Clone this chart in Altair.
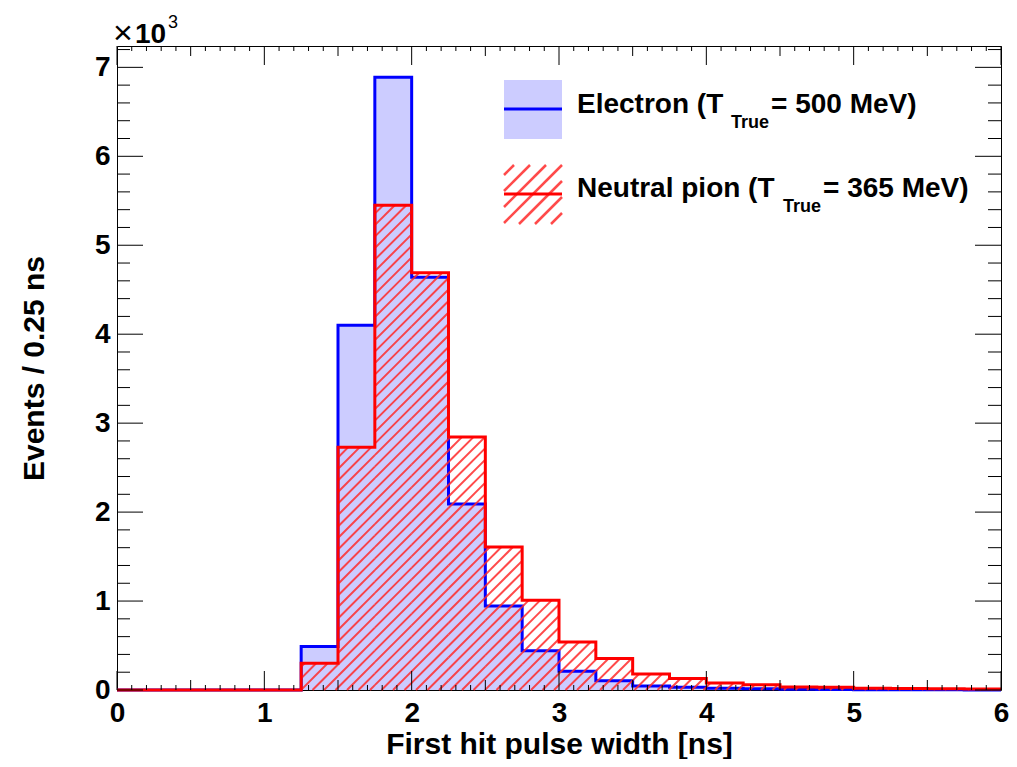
import altair as alt
import pandas as pd
import math

# ---------------- data ----------------
BIN_WIDTH = 0.25
BIN_LOW = [i * BIN_WIDTH for i in range(24)]          # 0.00 ... 5.75
ELECTRON = [0, 0, 0, 0, 0, 490, 4100, 6890, 4640, 2090, 944, 440,
            210, 105, 45, 30, 20, 15, 8, 5, 4, 3, 2, 1]
PION = [0, 0, 0, 0, 0, 300, 2730, 5450, 4690, 2843, 1607, 1010,
        540, 355, 180, 130, 80, 60, 35, 30, 20, 18, 15, 12]

X_TICK_LABELS = [0, 1, 2, 3, 4, 5, 6]
Y_TICK_LABELS = [0, 1000, 2000, 3000, 4000, 5000, 6000, 7000]
X_MID_TICKS = [0.5, 1.5, 2.5, 3.5, 4.5, 5.5]
X_MINOR_TICKS = [round(i * 0.1, 1) for i in range(61) if i % 5 != 0]
Y_MINOR_TICKS = [v for v in range(0, 7201, 200) if v % 1000 != 0]

LEGEND_LABELS = [("Electron (T", "True", "= 500 MeV)"),
                 ("Neutral pion (T", "True", "= 365 MeV)")]

# ---------------- layout ----------------
W, H = 884, 644
XMAX, YMAX = 6.0, 7240.0
FONT = "Liberation Sans"
BLUE, RED, LAV = "#0000ff", "#ff0000", "#ccccff"

xs = alt.Scale(domain=[0, XMAX], nice=False, zero=False)
ys = alt.Scale(domain=[0, YMAX], nice=False, zero=False)

AX = alt.Axis(
    values=X_TICK_LABELS, title="First hit pulse width [ns]", ticks=False,
    domain=False, grid=False, labelFontSize=28, labelFontWeight="bold",
    labelFont=FONT, labelPadding=9, labelFlush=False, labelColor="black",
    titleFont=FONT, titleFontSize=30, titleFontWeight="bold", titleColor="black",
    titleY=63, titleBaseline="alphabetic")
AY = alt.Axis(
    values=Y_TICK_LABELS, labelExpr="datum.value / 1000", title="Events / 0.25 ns",
    ticks=False, domain=False, grid=False, labelFontSize=28, labelFontWeight="bold",
    labelFont=FONT, labelPadding=7, labelColor="black", labelBaseline="middle",
    titleFont=FONT, titleFontSize=30, titleFontWeight="bold", titleColor="black",
    titleX=-74, titleBaseline="alphabetic")

edges = pd.DataFrame({
    "x": BIN_LOW + [XMAX],
    "e": ELECTRON + [ELECTRON[-1]],
    "r": PION + [PION[-1]],
})


def hatch(rects, spacing):
    """45-degree hatch segments (in pixel space) clipped to data rectangles."""
    rows = []
    for (x0, x1, y0, y1) in rects:
        X0, X1 = x0 / XMAX * W, x1 / XMAX * W
        Y0, Y1 = y0 / YMAX * H, y1 / YMAX * H
        if Y1 <= Y0:
            continue
        k0 = math.floor((X0 - Y1) / spacing)
        k1 = math.ceil(X1 / spacing)
        for k in range(k0, k1 + 1):
            c = k * spacing
            a = max(X0, c + Y0)
            b = min(X1, c + Y1)
            if b > a:
                rows.append({
                    "x": a / W * XMAX, "y": (a - c) / H * YMAX,
                    "x2": b / W * XMAX, "y2": (b - c) / H * YMAX,
                })
    return pd.DataFrame(rows)


hist_rects = [(lo, lo + BIN_WIDTH, 0, v) for lo, v in zip(BIN_LOW, PION) if v > 0]
hatch_df = hatch(hist_rects, 11.5)

# legend boxes (pixel positions relative to plot origin)
LEG_X0, LEG_X1 = 387, 445
LEG1_Y0, LEG1_Y1 = 34, 93
LEG2_Y0, LEG2_Y1 = 119, 178
leg_hatch_df = hatch([(LEG_X0 / W * XMAX, LEG_X1 / W * XMAX,
                       (H - LEG2_Y1) / H * YMAX, (H - LEG2_Y0) / H * YMAX)], 16)

one = pd.DataFrame({"a": [0]})


def X(field):
    return alt.X(field, type="quantitative", scale=xs, axis=AX)


def Y(field):
    return alt.Y(field, type="quantitative", scale=ys, axis=AY)


# ---------------- layers ----------------
area = alt.Chart(edges).mark_area(interpolate="step-after", color=LAV, opacity=1).encode(
    x=X("x"), y=Y("e"))

blue_line = alt.Chart(edges).mark_line(interpolate="step-after", color=BLUE, strokeWidth=3).encode(
    x=X("x"), y=Y("e"))

hatch_layer = alt.Chart(hatch_df).mark_rule(color="#ff2a2a", strokeWidth=2, opacity=0.85).encode(
    x=X("x"), y=Y("y"), x2="x2:Q", y2="y2:Q")

red_line = alt.Chart(edges).mark_line(interpolate="step-after", color=RED, strokeWidth=3).encode(
    x=X("x"), y=Y("r"))


def xticks(vals, length):
    d = pd.DataFrame({"t": vals})
    base = alt.Chart(d).mark_rule(color="black", strokeWidth=1)
    bot = base.encode(x=X("t"), y=alt.value(H), y2=alt.value(H - length))
    top = base.encode(x=X("t"), y=alt.value(0), y2=alt.value(length))
    return [bot, top]


def yticks(vals, length):
    d = pd.DataFrame({"t": vals})
    base = alt.Chart(d).mark_rule(color="black", strokeWidth=1)
    left = base.encode(y=Y("t"), x=alt.value(0), x2=alt.value(length))
    right = base.encode(y=Y("t"), x=alt.value(W), x2=alt.value(W - length))
    return [left, right]


tick_layers = (xticks(X_TICK_LABELS, 19) + xticks(X_MID_TICKS, 10) + xticks(X_MINOR_TICKS, 5)
               + yticks(Y_TICK_LABELS, 26) + yticks(Y_MINOR_TICKS, 13))

# legend
leg_rect = alt.Chart(one).mark_rect(color=LAV).encode(
    x=alt.value(LEG_X0), x2=alt.value(LEG_X1), y=alt.value(LEG1_Y0), y2=alt.value(LEG1_Y1))
leg_blue = alt.Chart(one).mark_rule(color=BLUE, strokeWidth=3).encode(
    x=alt.value(LEG_X0), x2=alt.value(LEG_X1), y=alt.value(63))
leg_hatch = alt.Chart(leg_hatch_df).mark_rule(color="#ff2a2a", strokeWidth=2.5, opacity=0.85).encode(
    x=X("x"), y=Y("y"), x2="x2:Q", y2="y2:Q")
leg_red = alt.Chart(one).mark_rule(color=RED, strokeWidth=3).encode(
    x=alt.value(LEG_X0), x2=alt.value(LEG_X1), y=alt.value(148))


def txt(s, x, y, size=28, weight="bold"):
    return alt.Chart(one).mark_text(
        text=s, align="left", baseline="alphabetic", font=FONT, fontSize=size,
        fontWeight=weight, color="black").encode(x=alt.value(x), y=alt.value(y))


texts = [
    txt(LEGEND_LABELS[0][0], 460, 67), txt(LEGEND_LABELS[0][1], 614, 82, 18),
    txt(LEGEND_LABELS[0][2], 654, 67),
    txt(LEGEND_LABELS[1][0], 460, 151), txt(LEGEND_LABELS[1][1], 666, 166, 18),
    txt(LEGEND_LABELS[1][2], 706, 151),
    txt("\u00d7", -4, -2, 34, "normal"), txt("10", 18, -3, 28),
    txt("3", 51, -18, 18, "normal"),
]

chart = alt.layer(
    area, blue_line, hatch_layer, red_line, *tick_layers,
    leg_rect, leg_blue, leg_hatch, leg_red, *texts,
).properties(
    width=W, height=H,
    autosize=alt.AutoSizeParams(type="none"),
    padding={"left": 109, "top": 38, "right": 8, "bottom": 69},
    background="white",
).configure_view(stroke="black", strokeWidth=1)

chart.save("out.html", embed_options={"renderer": "svg", "actions": False})
